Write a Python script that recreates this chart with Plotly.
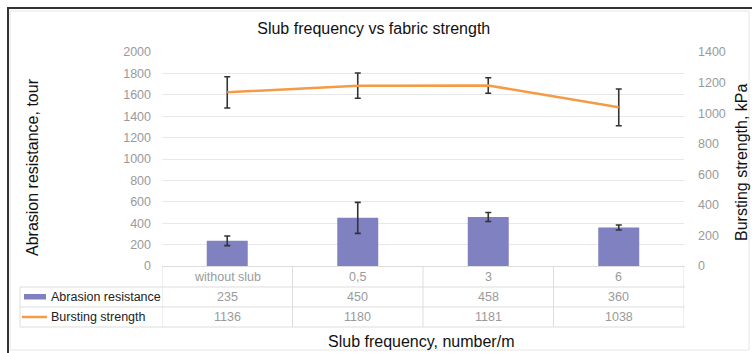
import plotly.graph_objects as go

# ---- data ----
categories = ["without slub", "0,5", "3", "6"]
abrasion = [235, 450, 458, 360]
abrasion_err = [45, 145, 42, 23]
bursting = [1136, 1180, 1181, 1038]
bursting_err = [102, 83, 51, 120]
left_ticks = [0, 200, 400, 600, 800, 1000, 1200, 1400, 1600, 1800, 2000]
right_ticks = [0, 200, 400, 600, 800, 1000, 1200, 1400]

W, H = 752, 353
L, R, T, B = 162, 684, 52, 266  # plot area in px
PW, PH = R - L, B - T


def px(x):
    return (x - L) / PW


def py(y):
    return (B - y) / PH


BAR_C = "#8081C1"
LINE_C = "#F39B45"
GRID_C = "#E8E8E8"
TABLE_C = "#DDDDDD"
TICK_C = "#9A9A9A"
FONT = "Liberation Sans, Arial, sans-serif"

fig = go.Figure()
fig.add_trace(go.Bar(
    x=categories, y=abrasion, name="Abrasion resistance",
    marker=dict(color=BAR_C, line=dict(width=0)),
    error_y=dict(type="data", array=abrasion_err, color="#333333", thickness=1.6, width=3),
    yaxis="y",
))
fig.add_trace(go.Scatter(
    x=categories, y=bursting, name="Bursting strength", mode="lines",
    line=dict(color=LINE_C, width=2.5),
    error_y=dict(type="data", array=bursting_err, color="#333333", thickness=1.6, width=3),
    yaxis="y2",
))

shapes = []
# outer frame
shapes.append(dict(type="rect", xref="paper", yref="paper",
                   x0=px(10), x1=px(749), y0=py(350), y1=py(11),
                   line=dict(color="#E6E6E6", width=1), layer="below"))
shapes.append(dict(type="line", xref="paper", yref="paper",
                   x0=px(7), x1=px(752), y0=py(8), y1=py(8),
                   line=dict(color="#333333", width=2)))
shapes.append(dict(type="line", xref="paper", yref="paper",
                   x0=px(8), x1=px(8), y0=py(7), y1=py(353),
                   line=dict(color="#333333", width=2)))

# data table lines
shapes.append(dict(type="line", xref="paper", yref="paper",
                   x0=0, x1=px(685), y0=py(266.5), y1=py(266.5),
                   line=dict(color=TABLE_C, width=1)))
for yy in (287, 307, 327):
    shapes.append(dict(type="line", xref="paper", yref="paper",
                       x0=px(20), x1=px(685), y0=py(yy), y1=py(yy),
                       line=dict(color=TABLE_C, width=1)))
for i in range(len(categories) + 1):
    shapes.append(dict(type="line", xref="x", yref="paper",
                       x0=i - 0.5, x1=i - 0.5, y0=py(266.5), y1=py(327),
                       line=dict(color=TABLE_C, width=1)))
shapes.append(dict(type="line", xref="paper", yref="paper",
                   x0=px(20), x1=px(20), y0=py(287), y1=py(327),
                   line=dict(color=TABLE_C, width=1)))
# legend keys
shapes.append(dict(type="rect", xref="paper", yref="paper",
                   x0=px(24), x1=px(46), y0=py(299.5), y1=py(294),
                   fillcolor=BAR_C, line=dict(width=0)))
shapes.append(dict(type="line", xref="paper", yref="paper",
                   x0=px(22), x1=px(47), y0=py(317), y1=py(317),
                   line=dict(color=LINE_C, width=2.5)))

ann = []
for i, c in enumerate(categories):
    ann.append(dict(x=i, xref="x", y=py(277), yref="paper", text=c, showarrow=False,
                    font=dict(size=12.5, color=TICK_C, family=FONT), yanchor="middle"))
    ann.append(dict(x=i, xref="x", y=py(297), yref="paper", text=str(abrasion[i]), showarrow=False,
                    font=dict(size=12.5, color=TICK_C, family=FONT), yanchor="middle"))
    ann.append(dict(x=i, xref="x", y=py(317), yref="paper", text=str(bursting[i]), showarrow=False,
                    font=dict(size=12.5, color=TICK_C, family=FONT), yanchor="middle"))
ann.append(dict(x=px(49), xref="paper", y=py(297), yref="paper", text="Abrasion resistance",
                showarrow=False, xanchor="left", yanchor="middle",
                font=dict(size=12.5, color="#222222", family=FONT)))
ann.append(dict(x=px(49), xref="paper", y=py(317), yref="paper", text="Bursting strength",
                showarrow=False, xanchor="left", yanchor="middle",
                font=dict(size=12.5, color="#222222", family=FONT)))
# axis titles
ann.append(dict(x=px(421), xref="paper", y=py(341), yref="paper", text="Slub frequency, number/m",
                showarrow=False, xanchor="center", yanchor="middle",
                font=dict(size=16, color="#111111", family=FONT)))
ann.append(dict(x=px(32), xref="paper", y=py(167), yref="paper", text="Abrasion resistance, tour",
                showarrow=False, textangle=-90, xanchor="center", yanchor="middle",
                font=dict(size=16, color="#111111", family=FONT)))
ann.append(dict(x=px(741), xref="paper", y=py(162), yref="paper", text="Bursting strength, kPa",
                showarrow=False, textangle=-90, xanchor="center", yanchor="middle",
                font=dict(size=16, color="#111111", family=FONT)))

fig.update_layout(
    width=W, height=H,
    margin=dict(l=L, r=W - R, t=T, b=H - B, pad=0),
    paper_bgcolor="white", plot_bgcolor="white",
    showlegend=False,
    bargap=0.686,
    font=dict(family=FONT, color=TICK_C, size=12),
    title=dict(text="Slub frequency vs fabric strength", x=0.497, xanchor="center",
               y=1 - 28 / H, yanchor="middle", yref="container",
               font=dict(size=16, color="#111111", family=FONT)),
    xaxis=dict(type="category", showticklabels=False, showgrid=False, zeroline=False,
               showline=False, ticks="", range=[-0.5, len(categories) - 0.5]),
    yaxis=dict(range=[0, 2000], tickvals=left_ticks, showgrid=True, gridcolor=GRID_C,
               gridwidth=1, zeroline=False, showline=False, ticks="",
               ticklabelstandoff=10, tickfont=dict(size=12.5, color=TICK_C, family=FONT)),
    yaxis2=dict(range=[0, 1400], tickvals=right_ticks, overlaying="y", side="right",
                showgrid=False, zeroline=False, showline=False, ticks="",
                ticklabelstandoff=13, tickfont=dict(size=12.5, color=TICK_C, family=FONT)),
    shapes=shapes,
    annotations=ann,
)

fig.write_html("out.html", config={"displayModeBar": False},
               post_script="document.body.style.margin='0';document.body.style.overflow='hidden';")
